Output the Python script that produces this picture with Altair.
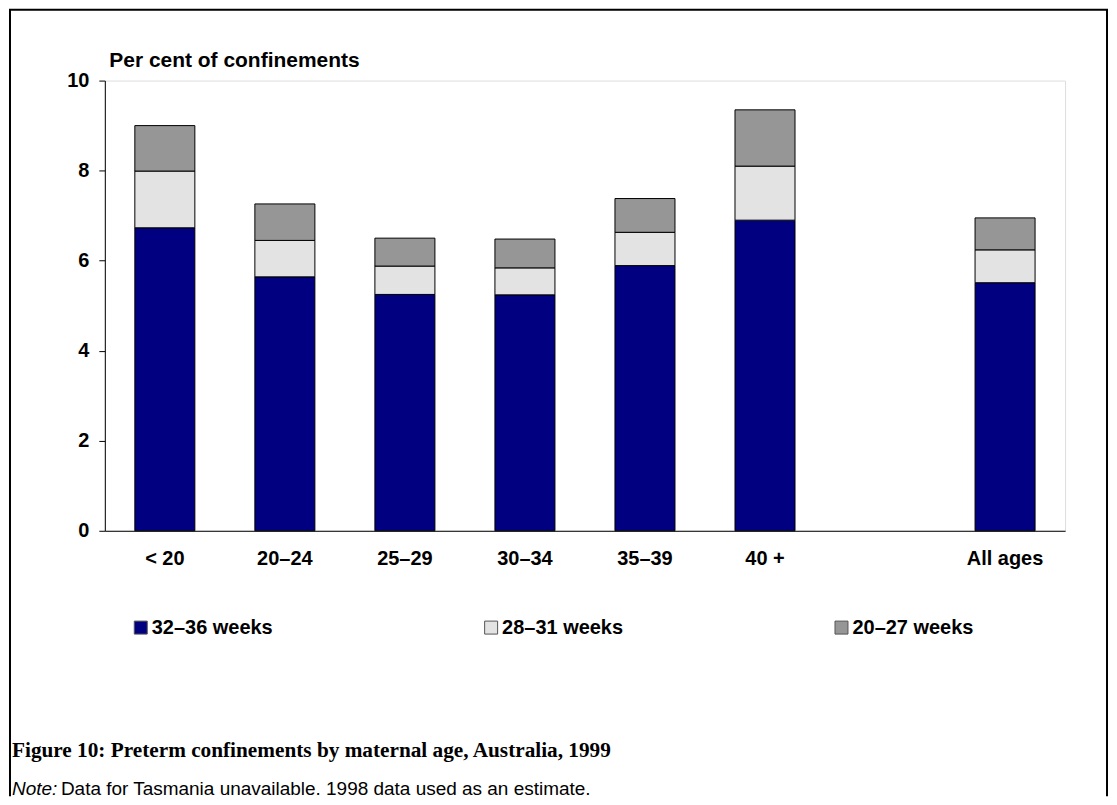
import altair as alt
import pandas as pd

categories = ["< 20", "20–24", "25–29", "30–34", "35–39", "40 +", " ", "All ages"]
bar_groups = ["< 20", "20–24", "25–29", "30–34", "35–39", "40 +", "All ages"]
series = ["32–36 weeks", "28–31 weeks", "20–27 weeks"]
w32_36 = [6.73, 5.64, 5.25, 5.24, 5.89, 6.90, 5.51]
w28_31 = [1.26, 0.81, 0.63, 0.60, 0.74, 1.20, 0.73]
w20_27 = [1.01, 0.81, 0.62, 0.64, 0.75, 1.25, 0.71]
colors = ["#000080", "#E3E3E3", "#969696"]
y_ticks = [0, 2, 4, 6, 8, 10]

rows = []
for i, g in enumerate(bar_groups):
    for k, (s, vals) in enumerate(zip(series, [w32_36, w28_31, w20_27])):
        rows.append({"age": g, "series": s, "value": vals[i], "order": k})
df = pd.DataFrame(rows)

FONT = "Liberation Sans"

bars = alt.Chart(df).mark_bar(stroke="#000000", strokeWidth=1).encode(
    x=alt.X("age:N", scale=alt.Scale(domain=categories, paddingInner=0.5, paddingOuter=0.25),
            axis=alt.Axis(title=None, labelAngle=0, ticks=False, labelFontSize=20,
                          labelFontWeight="bold", labelFont=FONT, labelColor="#000000",
                          labelPadding=18, domainColor="#000000")),
    y=alt.Y("value:Q", stack="zero", scale=alt.Scale(domain=[0, 10], nice=False),
            axis=alt.Axis(title="Per cent of confinements", values=y_ticks, grid=False,
                          tickSize=6, tickColor="#000000", domainColor="#000000",
                          labelFontSize=20, labelFontWeight="bold", labelFont=FONT,
                          labelColor="#000000", labelPadding=10,
                          titleAngle=0, titleX=4, titleY=-20, titleAlign="left",
                          titleBaseline="middle", titleFontSize=21, titleFont=FONT,
                          titleFontWeight="bold", titleColor="#000000")),
    color=alt.Color("series:N", scale=alt.Scale(domain=series, range=colors),
                    legend=alt.Legend(title=None, orient="none", legendX=26, legendY=538,
                                      direction="horizontal", columns=3, columnPadding=208,
                                      symbolType="square", symbolSize=169,
                                      symbolStrokeColor="#555555", symbolStrokeWidth=1,
                                      labelFontSize=20, labelFontWeight="bold",
                                      labelFont=FONT, labelColor="#000000", labelOffset=1)),
    order=alt.Order("order:Q"),
)

one = pd.DataFrame({"k": [0]})

frame_style = dict(color="#000000", strokeWidth=2)
left_edge = alt.Chart(one).mark_rule(**frame_style).encode(
    x=alt.value(-95), y=alt.value(-71), y2=alt.value(717))
right_edge = alt.Chart(one).mark_rule(**frame_style).encode(
    x=alt.value(1004), y=alt.value(-71), y2=alt.value(717))
top_edge = alt.Chart(one).mark_rule(**frame_style).encode(
    x=alt.value(-96), x2=alt.value(1005), y=alt.value(-71))

title = alt.Chart(one).mark_text(
    text="Figure 10: Preterm confinements by maternal age, Australia, 1999",
    font="Liberation Serif", fontSize=21.3, fontWeight="bold", align="left",
    baseline="middle", color="#000000"
).encode(x=alt.value(-93), y=alt.value(672))

note1 = alt.Chart(one).mark_text(
    text="Note:", font=FONT, fontSize=19, fontStyle="italic", align="left",
    baseline="middle", color="#000000"
).encode(x=alt.value(-93), y=alt.value(710))

note2 = alt.Chart(one).mark_text(
    text="Data for Tasmania unavailable. 1998 data used as an estimate.",
    font=FONT, fontSize=19, align="left", baseline="middle", color="#000000"
).encode(x=alt.value(-44), y=alt.value(710))

chart = alt.layer(left_edge, right_edge, top_edge, bars, title, note1, note2).properties(
    width=962, height=451, padding=0
).configure_view(stroke="#000000", strokeWidth=1).configure(background="#ffffff")

chart.save("out.html", embed_options={"renderer": "svg", "actions": False})
